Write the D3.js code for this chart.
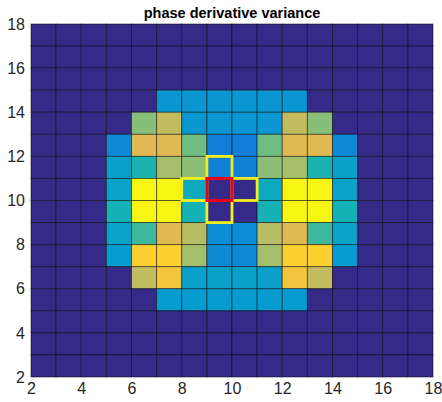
<!DOCTYPE html>
<html>
<head>
<meta charset="utf-8">
<script src="https://cdn.jsdelivr.net/npm/d3@7"></script>
<style>
  body { margin: 0; background: #fff; }
  svg { display: block; font-family: "Liberation Sans", Arial, sans-serif; }
</style>
</head>
<body>
<script>
// cell lower-left corners, 1 unit wide
const colX = [2,3,4,5,6,7,8,9,10,11,12,13,14,15,16,17];
const rowY = [17,16,15,14,13,12,11,10,9,8,7,6,5,4,3,2];
// values per row (top row first)
const values = [
  [0,0,0,0,0,0,0,0,0,0,0,0,0,0,0,0],
  [0,0,0,0,0,0,0,0,0,0,0,0,0,0,0,0],
  [0,0,0,0,0,0,0,0,0,0,0,0,0,0,0,0],
  [0,0,0,0,0,.28,.28,.28,.28,.28,.28,0,0,0,0,0],
  [0,0,0,0,.56,.65,.28,.28,.28,.28,.65,.56,0,0,0,0],
  [0,0,0,.24,.7,.7,.53,.2,.2,.53,.7,.7,.24,0,0,0],
  [0,0,0,.32,.41,.6,.57,.21,.21,.57,.6,.41,.32,0,0,0],
  [0,0,0,.33,.97,.97,.36,0,0,.36,.97,.97,.33,0,0,0],
  [0,0,0,.4,.97,.97,.4,0,0,.4,.97,.97,.4,0,0,0],
  [0,0,0,.33,.46,.7,.63,.25,.25,.63,.7,.46,.33,0,0,0],
  [0,0,0,.3,.8,.8,.6,.24,.24,.6,.8,.8,.3,0,0,0],
  [0,0,0,0,.65,.76,.32,.32,.32,.32,.76,.65,0,0,0,0],
  [0,0,0,0,0,.3,.3,.3,.3,.3,.3,0,0,0,0,0],
  [0,0,0,0,0,0,0,0,0,0,0,0,0,0,0,0],
  [0,0,0,0,0,0,0,0,0,0,0,0,0,0,0,0],
  [0,0,0,0,0,0,0,0,0,0,0,0,0,0,0,0]
];
const neighbourCells = [[9,11],[8,10],[10,10],[9,9]];
const centerCell = [9,10];
const xTicks = [2,4,6,8,10,12,14,16,18];
const yTicks = [2,4,6,8,10,12,14,16,18];
const title = "phase derivative variance";

// parula-ish colormap
const parulaStops = ["#352a87","#0f5cdd","#127dd8","#079ccf","#15b1b4","#59bd8c","#a5be6b","#e1b952","#fcce2e","#f5e41e","#f9fb0e"];

const W = 442, H = 402;
const margin = {top: 24, right: 9, bottom: 25, left: 31};

const svg = d3.select("body").append("svg")
  .attr("width", W).attr("height", H);

const x = d3.scaleLinear().domain([2, 18]).range([margin.left, W - margin.right]);
const y = d3.scaleLinear().domain([2, 18]).range([H - margin.bottom, margin.top]);
const color = d3.scaleLinear()
  .domain(d3.range(parulaStops.length).map(i => i / (parulaStops.length - 1)))
  .range(parulaStops)
  .interpolate(d3.interpolateRgb);

const cells = [];
rowY.forEach((yy, r) => colX.forEach((xx, c) => cells.push({x: xx, y: yy, v: values[r][c]})));

svg.append("g").selectAll("rect")
  .data(cells)
  .join("rect")
  .attr("x", d => x(d.x))
  .attr("y", d => y(d.y + 1))
  .attr("width", d => x(d.x + 1) - x(d.x))
  .attr("height", d => y(d.y) - y(d.y + 1))
  .attr("fill", d => color(d.v))
  .attr("stroke", "#000")
  .attr("stroke-opacity", 0.55)
  .attr("stroke-width", 0.9);

// highlighted cells
svg.append("g").selectAll("rect")
  .data(neighbourCells)
  .join("rect")
  .attr("x", d => x(d[0]))
  .attr("y", d => y(d[1] + 1))
  .attr("width", d => x(d[0] + 1) - x(d[0]))
  .attr("height", d => y(d[1]) - y(d[1] + 1))
  .attr("fill", "none")
  .attr("stroke", "#f2ef1c")
  .attr("stroke-width", 2.8);

svg.append("rect")
  .attr("x", x(centerCell[0]))
  .attr("y", y(centerCell[1] + 1))
  .attr("width", x(centerCell[0] + 1) - x(centerCell[0]))
  .attr("height", y(centerCell[1]) - y(centerCell[1] + 1))
  .attr("fill", "none")
  .attr("stroke", "#e8001a")
  .attr("stroke-width", 3);

// axes
const xAxis = svg.append("g")
  .attr("transform", `translate(0,${H - margin.bottom})`)
  .call(d3.axisBottom(x).tickValues(xTicks).tickSize(0).tickPadding(6));
const yAxis = svg.append("g")
  .attr("transform", `translate(${margin.left},0)`)
  .call(d3.axisLeft(y).tickValues(yTicks).tickSize(0).tickPadding(6));
[xAxis, yAxis].forEach(a => {
  a.select(".domain").remove();
  a.selectAll("text").attr("fill", "#262626").style("font-size", "16px")
    .style("font-family", "Liberation Sans, Arial, sans-serif");
});

svg.append("text")
  .attr("x", (x(2) + x(18)) / 2)
  .attr("y", 18)
  .attr("text-anchor", "middle")
  .style("font-size", "14.5px")
  .style("font-weight", "bold")
  .attr("fill", "#000")
  .text(title);
</script>
</body>
</html>
